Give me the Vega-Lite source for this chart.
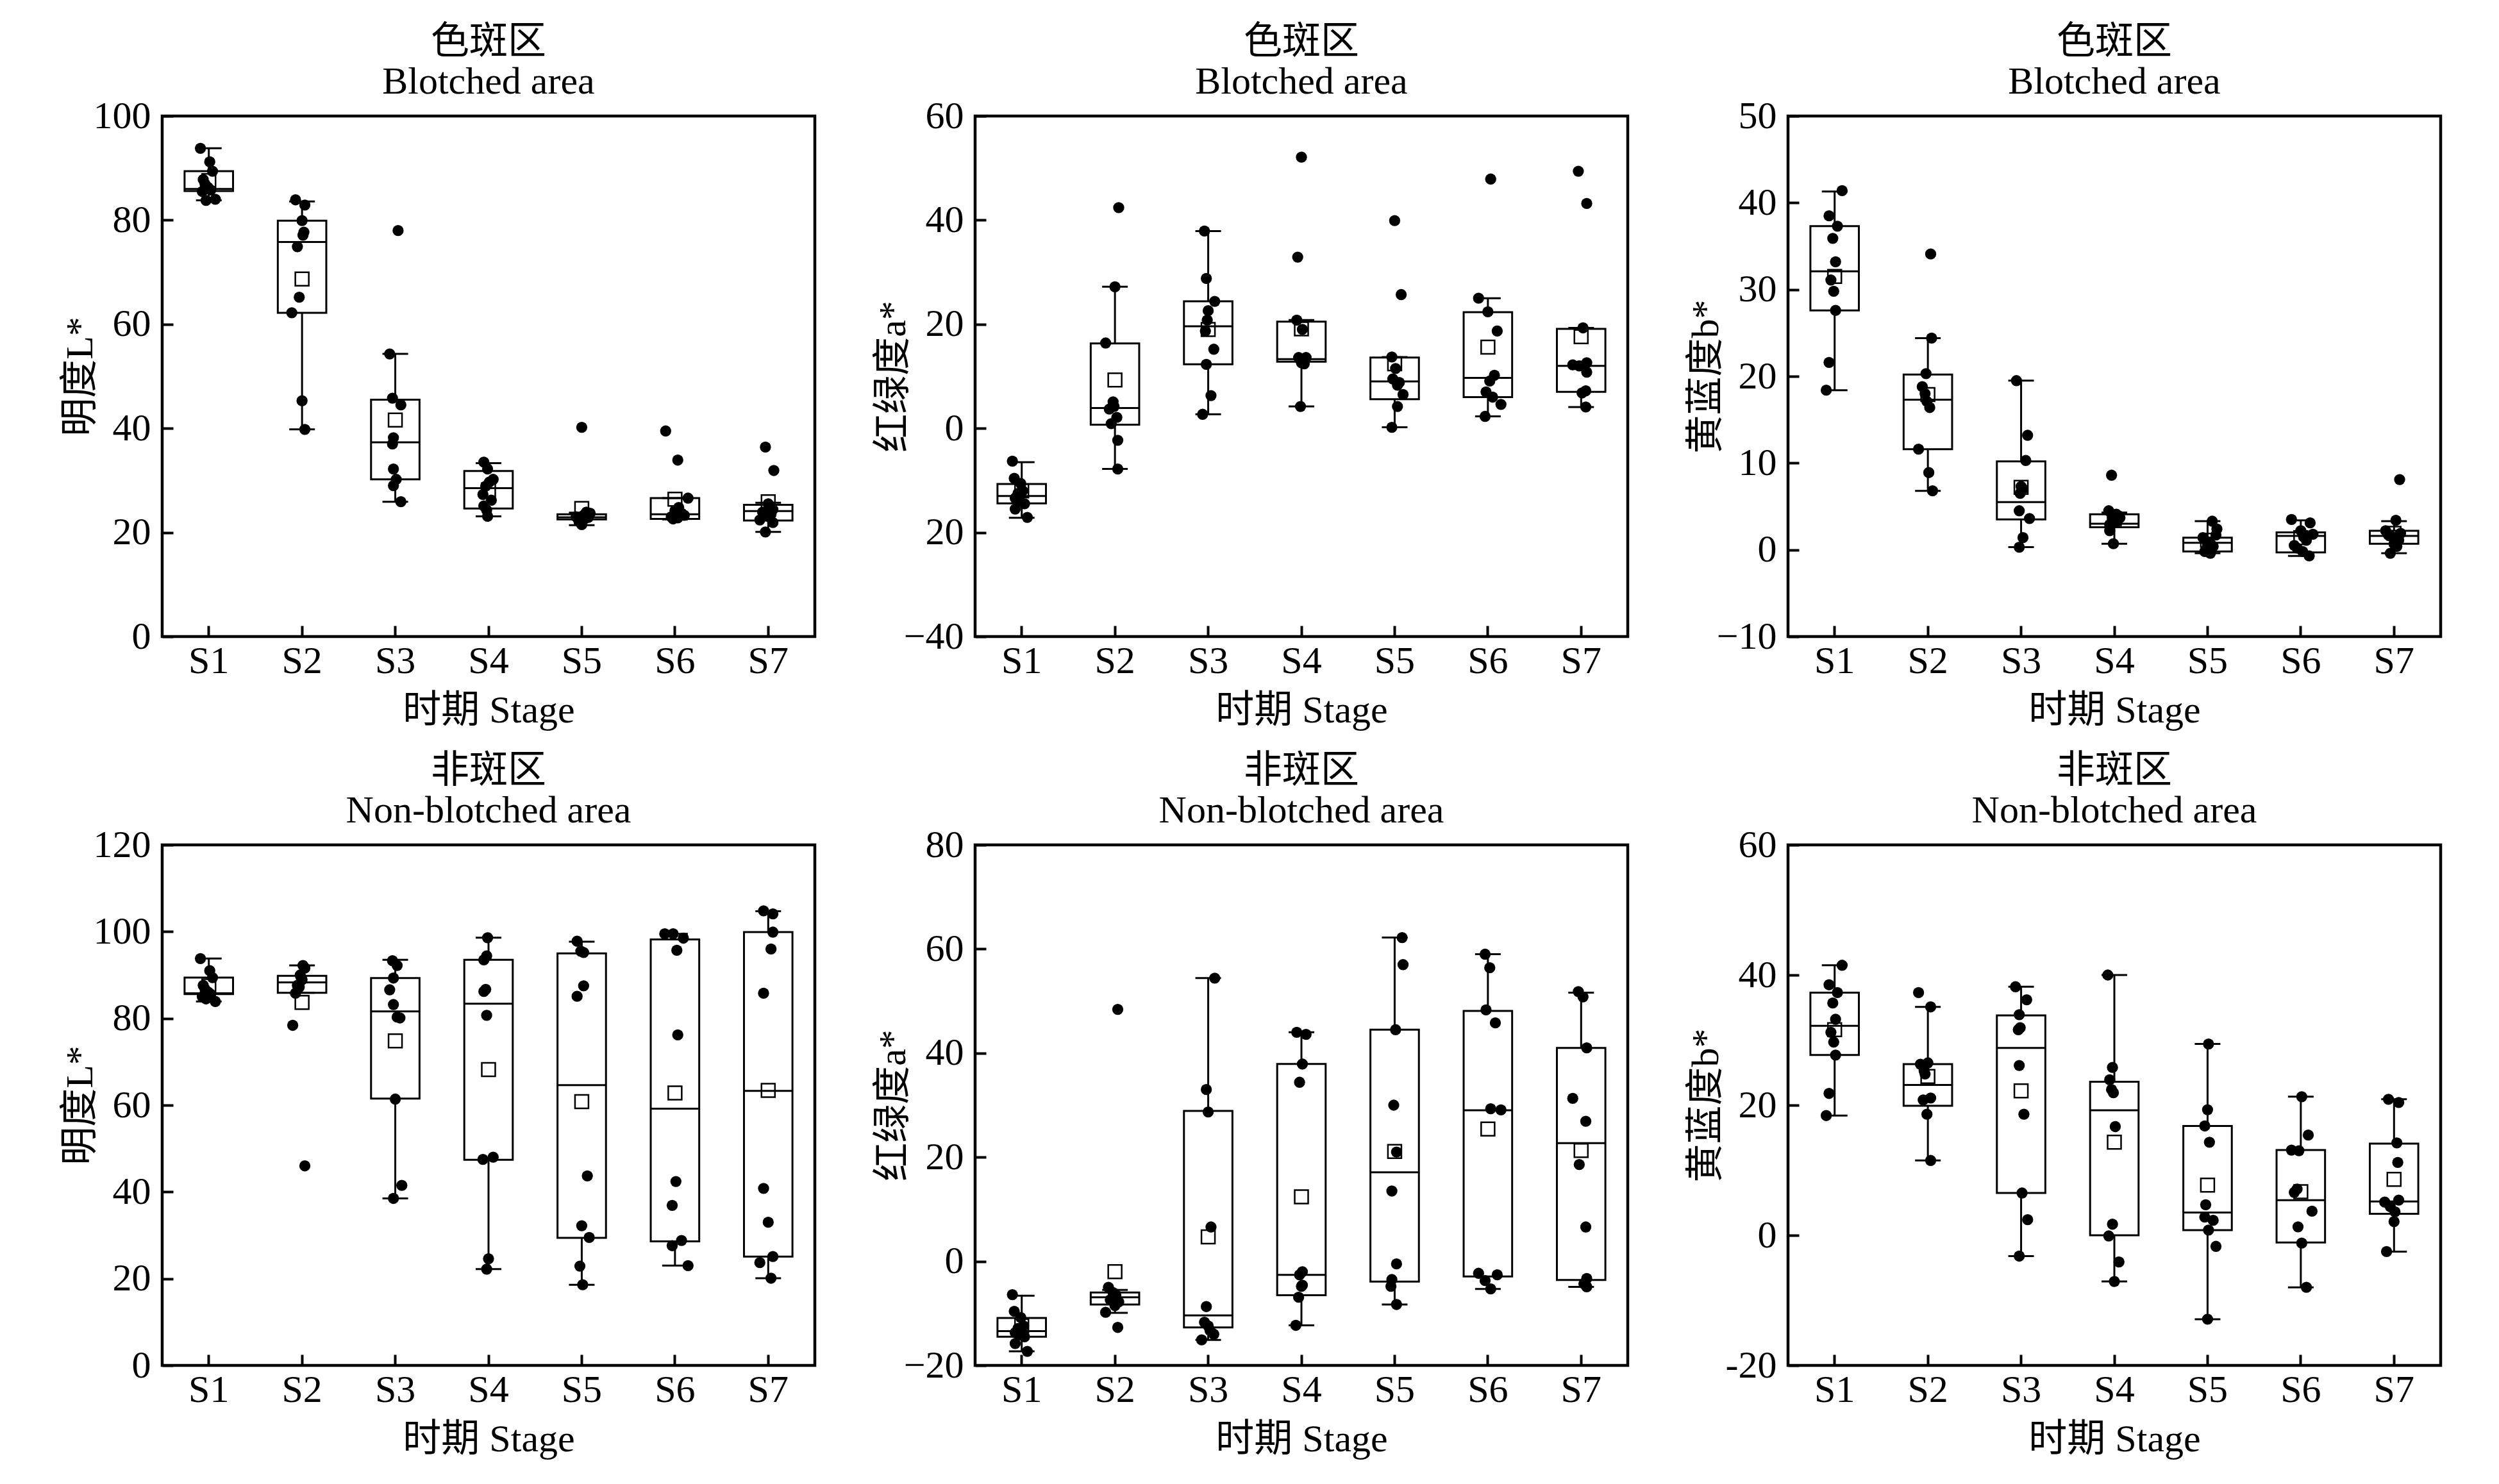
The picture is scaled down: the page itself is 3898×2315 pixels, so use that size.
{
  "$schema": "https://vega.github.io/schema/vega-lite/v6.json",
  "description": "Box plots of L*, a*, b* by stage for blotched and non-blotched areas.",
  "padding": {"left": 92, "top": 33, "right": 10, "bottom": 10},
  "datasets": {
    "box": [
      {"p":1,"s":"S1","lo":83.8,"q1":85.6,"md":86.0,"q3":89.4,"hi":93.8,"mn":87.6},
      {"p":1,"s":"S2","lo":39.8,"q1":62.2,"md":75.8,"q3":79.9,"hi":83.6,"mn":68.7},
      {"p":1,"s":"S3","lo":25.9,"q1":30.2,"md":37.3,"q3":45.5,"hi":54.3,"mn":41.6},
      {"p":1,"s":"S4","lo":23.1,"q1":24.6,"md":28.5,"q3":31.8,"hi":33.3,"mn":28.2},
      {"p":1,"s":"S5","lo":21.4,"q1":22.5,"md":22.9,"q3":23.5,"hi":23.8,"mn":24.6},
      {"p":1,"s":"S6","lo":22.5,"q1":22.6,"md":23.5,"q3":26.6,"hi":26.6,"mn":26.4},
      {"p":1,"s":"S7","lo":20.1,"q1":22.3,"md":24.1,"q3":25.3,"hi":25.7,"mn":25.9},
      {"p":2,"s":"S1","lo":-17.2,"q1":-14.4,"md":-13.0,"q3":-10.7,"hi":-6.5,"mn":-12.0},
      {"p":2,"s":"S2","lo":-7.8,"q1":0.7,"md":3.9,"q3":16.3,"hi":27.2,"mn":9.3},
      {"p":2,"s":"S3","lo":2.7,"q1":12.3,"md":19.6,"q3":24.4,"hi":37.9,"mn":19.0},
      {"p":2,"s":"S4","lo":4.2,"q1":12.8,"md":13.3,"q3":20.5,"hi":20.8,"mn":19.1},
      {"p":2,"s":"S5","lo":0.2,"q1":5.6,"md":9.0,"q3":13.6,"hi":13.7,"mn":12.4},
      {"p":2,"s":"S6","lo":2.3,"q1":6.0,"md":9.7,"q3":22.3,"hi":25.0,"mn":15.6},
      {"p":2,"s":"S7","lo":4.1,"q1":7.0,"md":12.0,"q3":19.1,"hi":19.3,"mn":17.6},
      {"p":3,"s":"S1","lo":18.4,"q1":27.6,"md":32.1,"q3":37.3,"hi":41.3,"mn":31.5},
      {"p":3,"s":"S2","lo":6.8,"q1":11.6,"md":17.3,"q3":20.2,"hi":24.4,"mn":17.9},
      {"p":3,"s":"S3","lo":0.3,"q1":3.5,"md":5.5,"q3":10.2,"hi":19.5,"mn":7.2},
      {"p":3,"s":"S4","lo":0.7,"q1":2.6,"md":3.0,"q3":4.1,"hi":4.3,"mn":3.6},
      {"p":3,"s":"S5","lo":-0.4,"q1":-0.2,"md":0.8,"q3":1.4,"hi":3.3,"mn":1.1},
      {"p":3,"s":"S6","lo":-0.7,"q1":-0.3,"md":1.6,"q3":2.0,"hi":3.4,"mn":1.4},
      {"p":3,"s":"S7","lo":-0.4,"q1":0.7,"md":1.6,"q3":2.2,"hi":3.3,"mn":1.9},
      {"p":4,"s":"S1","lo":83.9,"q1":85.6,"md":85.8,"q3":89.4,"hi":93.8,"mn":87.5},
      {"p":4,"s":"S2","lo":85.9,"q1":85.9,"md":88.3,"q3":89.8,"hi":92.2,"mn":83.7},
      {"p":4,"s":"S3","lo":38.5,"q1":61.5,"md":81.6,"q3":89.3,"hi":93.5,"mn":74.8},
      {"p":4,"s":"S4","lo":22.2,"q1":47.4,"md":83.4,"q3":93.5,"hi":98.6,"mn":68.2},
      {"p":4,"s":"S5","lo":18.6,"q1":29.4,"md":64.6,"q3":95.0,"hi":97.7,"mn":60.8},
      {"p":4,"s":"S6","lo":23.0,"q1":28.6,"md":59.2,"q3":98.2,"hi":99.5,"mn":62.8},
      {"p":4,"s":"S7","lo":20.1,"q1":25.1,"md":63.3,"q3":99.9,"hi":104.7,"mn":63.4},
      {"p":5,"s":"S1","lo":-17.3,"q1":-14.5,"md":-13.4,"q3":-10.9,"hi":-6.6,"mn":-12.4},
      {"p":5,"s":"S2","lo":-9.9,"q1":-8.3,"md":-6.9,"q3":-6.0,"hi":-5.5,"mn":-2.0},
      {"p":5,"s":"S3","lo":-15.1,"q1":-12.7,"md":-10.4,"q3":28.9,"hi":54.4,"mn":4.7},
      {"p":5,"s":"S4","lo":-12.3,"q1":-6.5,"md":-2.6,"q3":37.9,"hi":44.0,"mn":12.4},
      {"p":5,"s":"S5","lo":-8.3,"q1":-3.9,"md":17.1,"q3":44.5,"hi":62.2,"mn":21.1},
      {"p":5,"s":"S6","lo":-5.3,"q1":-2.9,"md":29.0,"q3":48.1,"hi":59.0,"mn":25.4},
      {"p":5,"s":"S7","lo":-4.9,"q1":-3.6,"md":22.7,"q3":41.0,"hi":51.6,"mn":21.3},
      {"p":6,"s":"S1","lo":18.4,"q1":27.7,"md":32.2,"q3":37.3,"hi":41.5,"mn":31.6},
      {"p":6,"s":"S2","lo":11.5,"q1":19.9,"md":23.1,"q3":26.3,"hi":35.1,"mn":24.4},
      {"p":6,"s":"S3","lo":-3.2,"q1":6.5,"md":28.8,"q3":33.8,"hi":38.2,"mn":22.2},
      {"p":6,"s":"S4","lo":-7.1,"q1":0.0,"md":19.2,"q3":23.6,"hi":40.0,"mn":14.3},
      {"p":6,"s":"S5","lo":-12.9,"q1":0.8,"md":3.5,"q3":16.8,"hi":29.4,"mn":7.7},
      {"p":6,"s":"S6","lo":-8.0,"q1":-1.1,"md":5.4,"q3":13.1,"hi":21.3,"mn":6.7},
      {"p":6,"s":"S7","lo":-2.5,"q1":3.3,"md":5.2,"q3":14.1,"hi":20.9,"mn":8.6}
    ],
    "pts": [
      {"p":1,"s":"S1","v":93.8,"j":-0.09},{"p":1,"s":"S1","v":91.2,"j":0.01},{"p":1,"s":"S1","v":89.4,"j":0.04},{"p":1,"s":"S1","v":87.8,"j":-0.06},{"p":1,"s":"S1","v":86.9,"j":-0.04},
      {"p":1,"s":"S1","v":86.3,"j":-0.01},{"p":1,"s":"S1","v":85.8,"j":0.02},{"p":1,"s":"S1","v":85.5,"j":-0.07},{"p":1,"s":"S1","v":84.0,"j":0.07},{"p":1,"s":"S1","v":83.8,"j":-0.03},
      {"p":1,"s":"S2","v":83.9,"j":-0.07},{"p":1,"s":"S2","v":82.9,"j":0.03},{"p":1,"s":"S2","v":79.9,"j":0.0},{"p":1,"s":"S2","v":77.7,"j":0.02},{"p":1,"s":"S2","v":77.1,"j":0.01},
      {"p":1,"s":"S2","v":74.9,"j":-0.05},{"p":1,"s":"S2","v":65.2,"j":-0.03},{"p":1,"s":"S2","v":62.2,"j":-0.11},{"p":1,"s":"S2","v":45.3,"j":0.0},{"p":1,"s":"S2","v":39.8,"j":0.03},
      {"p":1,"s":"S3","v":78.0,"j":0.03},{"p":1,"s":"S3","v":54.3,"j":-0.06},{"p":1,"s":"S3","v":45.8,"j":-0.03},{"p":1,"s":"S3","v":44.5,"j":0.06},{"p":1,"s":"S3","v":38.2,"j":-0.02},
      {"p":1,"s":"S3","v":37.0,"j":-0.03},{"p":1,"s":"S3","v":32.2,"j":-0.02},{"p":1,"s":"S3","v":30.2,"j":0.01},{"p":1,"s":"S3","v":29.0,"j":-0.02},{"p":1,"s":"S3","v":25.9,"j":0.06},
      {"p":1,"s":"S4","v":33.5,"j":-0.05},{"p":1,"s":"S4","v":32.2,"j":-0.01},{"p":1,"s":"S4","v":30.2,"j":0.05},{"p":1,"s":"S4","v":29.7,"j":0.01},{"p":1,"s":"S4","v":28.9,"j":-0.03},
      {"p":1,"s":"S4","v":27.3,"j":-0.06},{"p":1,"s":"S4","v":26.2,"j":0.03},{"p":1,"s":"S4","v":25.1,"j":-0.05},{"p":1,"s":"S4","v":24.3,"j":-0.02},{"p":1,"s":"S4","v":23.1,"j":-0.01},
      {"p":1,"s":"S5","v":40.2,"j":0.0},{"p":1,"s":"S5","v":23.9,"j":0.05},{"p":1,"s":"S5","v":23.7,"j":0.09},{"p":1,"s":"S5","v":23.3,"j":0.02},{"p":1,"s":"S5","v":23.0,"j":-0.06},
      {"p":1,"s":"S5","v":22.9,"j":0.07},{"p":1,"s":"S5","v":22.7,"j":-0.01},{"p":1,"s":"S5","v":22.6,"j":0.03},{"p":1,"s":"S5","v":22.1,"j":-0.03},{"p":1,"s":"S5","v":21.5,"j":0.0},
      {"p":1,"s":"S6","v":39.5,"j":-0.1},{"p":1,"s":"S6","v":33.9,"j":0.03},{"p":1,"s":"S6","v":26.6,"j":0.14},{"p":1,"s":"S6","v":24.8,"j":0.04},{"p":1,"s":"S6","v":24.2,"j":0.0},
      {"p":1,"s":"S6","v":23.7,"j":0.07},{"p":1,"s":"S6","v":23.3,"j":0.1},{"p":1,"s":"S6","v":23.0,"j":-0.04},{"p":1,"s":"S6","v":22.8,"j":0.03},{"p":1,"s":"S6","v":22.6,"j":-0.02},
      {"p":1,"s":"S7","v":36.4,"j":-0.03},{"p":1,"s":"S7","v":31.9,"j":0.06},{"p":1,"s":"S7","v":25.5,"j":0.0},{"p":1,"s":"S7","v":24.4,"j":0.05},{"p":1,"s":"S7","v":23.9,"j":-0.06},
      {"p":1,"s":"S7","v":23.5,"j":0.03},{"p":1,"s":"S7","v":23.0,"j":0.01},{"p":1,"s":"S7","v":22.4,"j":-0.09},{"p":1,"s":"S7","v":21.9,"j":0.05},{"p":1,"s":"S7","v":20.1,"j":-0.03},

      {"p":2,"s":"S1","v":-6.3,"j":-0.1},{"p":2,"s":"S1","v":-9.6,"j":-0.08},{"p":2,"s":"S1","v":-10.6,"j":-0.01},{"p":2,"s":"S1","v":-12.5,"j":-0.04},{"p":2,"s":"S1","v":-12.0,"j":0.01},
      {"p":2,"s":"S1","v":-13.4,"j":-0.07},{"p":2,"s":"S1","v":-14.5,"j":0.03},{"p":2,"s":"S1","v":-15.5,"j":-0.07},{"p":2,"s":"S1","v":-17.1,"j":0.06},{"p":2,"s":"S1","v":-13.8,"j":-0.03},
      {"p":2,"s":"S2","v":42.4,"j":0.04},{"p":2,"s":"S2","v":27.2,"j":0.0},{"p":2,"s":"S2","v":16.4,"j":-0.1},{"p":2,"s":"S2","v":5.1,"j":-0.02},{"p":2,"s":"S2","v":3.7,"j":-0.06},
      {"p":2,"s":"S2","v":2.1,"j":0.02},{"p":2,"s":"S2","v":0.9,"j":-0.04},{"p":2,"s":"S2","v":-2.3,"j":0.03},{"p":2,"s":"S2","v":-7.8,"j":0.03},{"p":2,"s":"S2","v":4.2,"j":-0.01},
      {"p":2,"s":"S3","v":37.9,"j":-0.04},{"p":2,"s":"S3","v":28.8,"j":-0.02},{"p":2,"s":"S3","v":24.4,"j":0.07},{"p":2,"s":"S3","v":22.6,"j":0.0},{"p":2,"s":"S3","v":20.8,"j":-0.01},
      {"p":2,"s":"S3","v":18.7,"j":-0.03},{"p":2,"s":"S3","v":15.2,"j":0.06},{"p":2,"s":"S3","v":12.3,"j":-0.02},{"p":2,"s":"S3","v":6.3,"j":0.03},{"p":2,"s":"S3","v":2.7,"j":-0.06},
      {"p":2,"s":"S4","v":52.1,"j":0.0},{"p":2,"s":"S4","v":32.9,"j":-0.04},{"p":2,"s":"S4","v":20.8,"j":-0.05},{"p":2,"s":"S4","v":19.0,"j":0.01},{"p":2,"s":"S4","v":13.6,"j":-0.03},
      {"p":2,"s":"S4","v":13.6,"j":0.05},{"p":2,"s":"S4","v":12.6,"j":0.0},{"p":2,"s":"S4","v":12.4,"j":0.03},{"p":2,"s":"S4","v":4.2,"j":-0.01},{"p":2,"s":"S4","v":13.0,"j":0.02},
      {"p":2,"s":"S5","v":39.9,"j":0.0},{"p":2,"s":"S5","v":25.7,"j":0.07},{"p":2,"s":"S5","v":13.7,"j":-0.03},{"p":2,"s":"S5","v":11.5,"j":0.01},{"p":2,"s":"S5","v":9.5,"j":-0.02},
      {"p":2,"s":"S5","v":8.3,"j":0.03},{"p":2,"s":"S5","v":6.5,"j":0.09},{"p":2,"s":"S5","v":4.2,"j":0.03},{"p":2,"s":"S5","v":0.2,"j":-0.03},{"p":2,"s":"S5","v":8.8,"j":0.05},
      {"p":2,"s":"S6","v":47.9,"j":0.03},{"p":2,"s":"S6","v":25.0,"j":-0.1},{"p":2,"s":"S6","v":22.4,"j":0.0},{"p":2,"s":"S6","v":18.7,"j":0.1},{"p":2,"s":"S6","v":10.2,"j":0.07},
      {"p":2,"s":"S6","v":9.1,"j":0.02},{"p":2,"s":"S6","v":7.0,"j":-0.02},{"p":2,"s":"S6","v":6.0,"j":0.05},{"p":2,"s":"S6","v":4.6,"j":0.14},{"p":2,"s":"S6","v":2.3,"j":-0.03},
      {"p":2,"s":"S7","v":49.4,"j":-0.03},{"p":2,"s":"S7","v":43.2,"j":0.06},{"p":2,"s":"S7","v":19.3,"j":0.02},{"p":2,"s":"S7","v":12.2,"j":-0.09},{"p":2,"s":"S7","v":12.0,"j":-0.02},
      {"p":2,"s":"S7","v":12.6,"j":0.06},{"p":2,"s":"S7","v":10.8,"j":0.06},{"p":2,"s":"S7","v":7.2,"j":0.05},{"p":2,"s":"S7","v":6.8,"j":0.01},{"p":2,"s":"S7","v":4.1,"j":0.05},

      {"p":3,"s":"S1","v":41.4,"j":0.08},{"p":3,"s":"S1","v":38.5,"j":-0.06},{"p":3,"s":"S1","v":37.3,"j":0.03},{"p":3,"s":"S1","v":35.9,"j":-0.02},{"p":3,"s":"S1","v":33.2,"j":0.01},
      {"p":3,"s":"S1","v":31.1,"j":-0.04},{"p":3,"s":"S1","v":29.8,"j":-0.01},{"p":3,"s":"S1","v":27.6,"j":0.01},{"p":3,"s":"S1","v":21.6,"j":-0.06},{"p":3,"s":"S1","v":18.4,"j":-0.09},
      {"p":3,"s":"S2","v":34.1,"j":0.03},{"p":3,"s":"S2","v":24.4,"j":0.04},{"p":3,"s":"S2","v":20.3,"j":-0.02},{"p":3,"s":"S2","v":18.8,"j":-0.06},{"p":3,"s":"S2","v":18.0,"j":-0.03},
      {"p":3,"s":"S2","v":16.4,"j":0.02},{"p":3,"s":"S2","v":11.6,"j":-0.1},{"p":3,"s":"S2","v":8.9,"j":0.01},{"p":3,"s":"S2","v":6.8,"j":0.05},{"p":3,"s":"S2","v":17.1,"j":-0.01},
      {"p":3,"s":"S3","v":19.5,"j":-0.05},{"p":3,"s":"S3","v":13.2,"j":0.07},{"p":3,"s":"S3","v":10.3,"j":0.05},{"p":3,"s":"S3","v":7.3,"j":0.0},{"p":3,"s":"S3","v":6.5,"j":-0.01},
      {"p":3,"s":"S3","v":4.5,"j":-0.02},{"p":3,"s":"S3","v":3.6,"j":0.09},{"p":3,"s":"S3","v":1.4,"j":0.02},{"p":3,"s":"S3","v":0.3,"j":-0.02},{"p":3,"s":"S3","v":7.0,"j":0.02},
      {"p":3,"s":"S4","v":8.6,"j":-0.03},{"p":3,"s":"S4","v":4.5,"j":-0.06},{"p":3,"s":"S4","v":4.1,"j":0.02},{"p":3,"s":"S4","v":3.5,"j":-0.01},{"p":3,"s":"S4","v":3.7,"j":0.06},
      {"p":3,"s":"S4","v":2.9,"j":-0.05},{"p":3,"s":"S4","v":2.2,"j":-0.05},{"p":3,"s":"S4","v":0.7,"j":-0.01},{"p":3,"s":"S4","v":3.3,"j":0.03},{"p":3,"s":"S4","v":3.8,"j":-0.02},
      {"p":3,"s":"S5","v":3.3,"j":0.05},{"p":3,"s":"S5","v":2.4,"j":0.1},{"p":3,"s":"S5","v":1.4,"j":-0.05},{"p":3,"s":"S5","v":0.9,"j":0.01},{"p":3,"s":"S5","v":0.4,"j":0.06},
      {"p":3,"s":"S5","v":0.0,"j":-0.01},{"p":3,"s":"S5","v":-0.4,"j":0.03},{"p":3,"s":"S5","v":-0.2,"j":-0.03},{"p":3,"s":"S5","v":1.7,"j":0.09},{"p":3,"s":"S5","v":0.5,"j":0.0},
      {"p":3,"s":"S6","v":3.5,"j":-0.1},{"p":3,"s":"S6","v":3.1,"j":0.1},{"p":3,"s":"S6","v":2.2,"j":0.0},{"p":3,"s":"S6","v":1.8,"j":0.13},{"p":3,"s":"S6","v":1.5,"j":0.03},
      {"p":3,"s":"S6","v":0.2,"j":-0.04},{"p":3,"s":"S6","v":-0.2,"j":0.02},{"p":3,"s":"S6","v":-0.7,"j":0.09},{"p":3,"s":"S6","v":0.5,"j":-0.07},{"p":3,"s":"S6","v":1.1,"j":0.06},
      {"p":3,"s":"S7","v":8.1,"j":0.06},{"p":3,"s":"S7","v":3.4,"j":0.02},{"p":3,"s":"S7","v":2.2,"j":-0.09},{"p":3,"s":"S7","v":1.9,"j":0.07},{"p":3,"s":"S7","v":1.5,"j":-0.02},
      {"p":3,"s":"S7","v":1.1,"j":0.05},{"p":3,"s":"S7","v":0.7,"j":0.0},{"p":3,"s":"S7","v":-0.4,"j":-0.04},{"p":3,"s":"S7","v":0.4,"j":0.03},{"p":3,"s":"S7","v":1.7,"j":-0.06},

      {"p":4,"s":"S1","v":93.8,"j":-0.09},{"p":4,"s":"S1","v":91.0,"j":0.01},{"p":4,"s":"S1","v":89.4,"j":0.04},{"p":4,"s":"S1","v":87.6,"j":-0.06},{"p":4,"s":"S1","v":86.7,"j":-0.04},
      {"p":4,"s":"S1","v":86.1,"j":-0.01},{"p":4,"s":"S1","v":85.6,"j":0.02},{"p":4,"s":"S1","v":85.0,"j":-0.07},{"p":4,"s":"S1","v":83.9,"j":0.07},{"p":4,"s":"S1","v":84.5,"j":-0.03},
      {"p":4,"s":"S2","v":92.2,"j":0.01},{"p":4,"s":"S2","v":91.6,"j":0.03},{"p":4,"s":"S2","v":90.0,"j":-0.02},{"p":4,"s":"S2","v":88.9,"j":0.0},{"p":4,"s":"S2","v":87.6,"j":-0.05},
      {"p":4,"s":"S2","v":85.8,"j":-0.07},{"p":4,"s":"S2","v":87.2,"j":-0.03},{"p":4,"s":"S2","v":78.4,"j":-0.1},{"p":4,"s":"S2","v":46.0,"j":0.03},{"p":4,"s":"S2","v":89.4,"j":-0.01},
      {"p":4,"s":"S3","v":93.3,"j":-0.03},{"p":4,"s":"S3","v":89.3,"j":-0.02},{"p":4,"s":"S3","v":86.6,"j":-0.06},{"p":4,"s":"S3","v":83.2,"j":-0.02},{"p":4,"s":"S3","v":80.1,"j":0.05},
      {"p":4,"s":"S3","v":80.3,"j":0.02},{"p":4,"s":"S3","v":61.4,"j":0.0},{"p":4,"s":"S3","v":41.5,"j":0.07},{"p":4,"s":"S3","v":38.5,"j":-0.02},{"p":4,"s":"S3","v":92.2,"j":0.02},
      {"p":4,"s":"S4","v":98.6,"j":-0.01},{"p":4,"s":"S4","v":94.4,"j":-0.02},{"p":4,"s":"S4","v":93.5,"j":-0.05},{"p":4,"s":"S4","v":86.2,"j":-0.05},{"p":4,"s":"S4","v":86.7,"j":-0.03},
      {"p":4,"s":"S4","v":80.7,"j":-0.02},{"p":4,"s":"S4","v":47.5,"j":-0.06},{"p":4,"s":"S4","v":48.0,"j":0.05},{"p":4,"s":"S4","v":24.6,"j":0.0},{"p":4,"s":"S4","v":22.2,"j":-0.02},
      {"p":4,"s":"S5","v":97.8,"j":-0.05},{"p":4,"s":"S5","v":95.2,"j":0.02},{"p":4,"s":"S5","v":87.5,"j":0.02},{"p":4,"s":"S5","v":85.1,"j":-0.05},{"p":4,"s":"S5","v":43.7,"j":0.06},
      {"p":4,"s":"S5","v":32.2,"j":0.0},{"p":4,"s":"S5","v":29.5,"j":0.08},{"p":4,"s":"S5","v":22.9,"j":-0.02},{"p":4,"s":"S5","v":18.6,"j":0.01},{"p":4,"s":"S5","v":95.5,"j":-0.01},
      {"p":4,"s":"S6","v":99.5,"j":-0.11},{"p":4,"s":"S6","v":99.5,"j":-0.02},{"p":4,"s":"S6","v":98.5,"j":0.09},{"p":4,"s":"S6","v":95.7,"j":0.02},{"p":4,"s":"S6","v":76.2,"j":0.03},
      {"p":4,"s":"S6","v":42.4,"j":0.01},{"p":4,"s":"S6","v":36.9,"j":-0.03},{"p":4,"s":"S6","v":28.8,"j":0.07},{"p":4,"s":"S6","v":27.6,"j":-0.03},{"p":4,"s":"S6","v":23.0,"j":0.14},
      {"p":4,"s":"S7","v":104.8,"j":-0.05},{"p":4,"s":"S7","v":104.1,"j":0.05},{"p":4,"s":"S7","v":99.9,"j":0.05},{"p":4,"s":"S7","v":96.0,"j":0.03},{"p":4,"s":"S7","v":85.8,"j":-0.05},
      {"p":4,"s":"S7","v":40.8,"j":-0.05},{"p":4,"s":"S7","v":33.0,"j":0.0},{"p":4,"s":"S7","v":25.1,"j":0.05},{"p":4,"s":"S7","v":23.7,"j":-0.09},{"p":4,"s":"S7","v":20.1,"j":0.03},

      {"p":5,"s":"S1","v":-6.4,"j":-0.1},{"p":5,"s":"S1","v":-9.6,"j":-0.08},{"p":5,"s":"S1","v":-10.8,"j":-0.01},{"p":5,"s":"S1","v":-12.9,"j":-0.04},{"p":5,"s":"S1","v":-12.4,"j":0.02},
      {"p":5,"s":"S1","v":-13.7,"j":-0.07},{"p":5,"s":"S1","v":-14.5,"j":0.03},{"p":5,"s":"S1","v":-15.8,"j":-0.07},{"p":5,"s":"S1","v":-17.3,"j":0.06},{"p":5,"s":"S1","v":-14.2,"j":-0.03},
      {"p":5,"s":"S2","v":48.4,"j":0.03},{"p":5,"s":"S2","v":-5.0,"j":-0.07},{"p":5,"s":"S2","v":-6.0,"j":-0.02},{"p":5,"s":"S2","v":-6.5,"j":0.01},{"p":5,"s":"S2","v":-7.4,"j":-0.05},
      {"p":5,"s":"S2","v":-7.8,"j":0.04},{"p":5,"s":"S2","v":-8.5,"j":0.0},{"p":5,"s":"S2","v":-9.8,"j":-0.1},{"p":5,"s":"S2","v":-12.7,"j":0.03},{"p":5,"s":"S2","v":-6.9,"j":-0.01},
      {"p":5,"s":"S3","v":54.4,"j":0.07},{"p":5,"s":"S3","v":33.0,"j":-0.02},{"p":5,"s":"S3","v":28.7,"j":0.0},{"p":5,"s":"S3","v":6.6,"j":0.03},{"p":5,"s":"S3","v":-8.7,"j":-0.02},
      {"p":5,"s":"S3","v":-11.7,"j":-0.04},{"p":5,"s":"S3","v":-12.4,"j":0.0},{"p":5,"s":"S3","v":-14.0,"j":0.06},{"p":5,"s":"S3","v":-15.1,"j":-0.07},{"p":5,"s":"S3","v":-13.3,"j":0.02},
      {"p":5,"s":"S4","v":44.0,"j":-0.05},{"p":5,"s":"S4","v":43.6,"j":0.05},{"p":5,"s":"S4","v":37.9,"j":0.01},{"p":5,"s":"S4","v":34.4,"j":-0.02},{"p":5,"s":"S4","v":-2.0,"j":0.01},
      {"p":5,"s":"S4","v":-2.6,"j":-0.02},{"p":5,"s":"S4","v":-4.8,"j":0.0},{"p":5,"s":"S4","v":-6.9,"j":-0.03},{"p":5,"s":"S4","v":-12.3,"j":-0.06},{"p":5,"s":"S4","v":-4.6,"j":0.01},
      {"p":5,"s":"S5","v":62.2,"j":0.08},{"p":5,"s":"S5","v":57.0,"j":0.09},{"p":5,"s":"S5","v":44.5,"j":0.01},{"p":5,"s":"S5","v":30.0,"j":-0.01},{"p":5,"s":"S5","v":21.0,"j":0.02},
      {"p":5,"s":"S5","v":13.5,"j":-0.03},{"p":5,"s":"S5","v":-0.5,"j":0.02},{"p":5,"s":"S5","v":-3.5,"j":-0.03},{"p":5,"s":"S5","v":-4.8,"j":-0.04},{"p":5,"s":"S5","v":-8.3,"j":0.02},
      {"p":5,"s":"S6","v":59.0,"j":-0.03},{"p":5,"s":"S6","v":56.4,"j":0.02},{"p":5,"s":"S6","v":48.3,"j":-0.02},{"p":5,"s":"S6","v":45.8,"j":0.08},{"p":5,"s":"S6","v":29.3,"j":0.03},
      {"p":5,"s":"S6","v":29.1,"j":0.14},{"p":5,"s":"S6","v":-2.3,"j":-0.1},{"p":5,"s":"S6","v":-2.6,"j":0.1},{"p":5,"s":"S6","v":-3.7,"j":-0.03},{"p":5,"s":"S6","v":-5.3,"j":0.03},
      {"p":5,"s":"S7","v":51.8,"j":-0.03},{"p":5,"s":"S7","v":50.8,"j":0.02},{"p":5,"s":"S7","v":41.0,"j":0.06},{"p":5,"s":"S7","v":31.3,"j":-0.09},{"p":5,"s":"S7","v":26.9,"j":0.05},
      {"p":5,"s":"S7","v":18.6,"j":-0.02},{"p":5,"s":"S7","v":6.6,"j":0.05},{"p":5,"s":"S7","v":-3.3,"j":0.06},{"p":5,"s":"S7","v":-4.3,"j":0.03},{"p":5,"s":"S7","v":-4.9,"j":0.06},

      {"p":6,"s":"S1","v":41.5,"j":0.08},{"p":6,"s":"S1","v":38.5,"j":-0.06},{"p":6,"s":"S1","v":37.3,"j":0.03},{"p":6,"s":"S1","v":35.7,"j":-0.02},{"p":6,"s":"S1","v":33.2,"j":0.01},
      {"p":6,"s":"S1","v":31.2,"j":-0.04},{"p":6,"s":"S1","v":29.7,"j":-0.01},{"p":6,"s":"S1","v":27.7,"j":0.01},{"p":6,"s":"S1","v":21.8,"j":-0.06},{"p":6,"s":"S1","v":18.4,"j":-0.09},
      {"p":6,"s":"S2","v":37.3,"j":-0.1},{"p":6,"s":"S2","v":35.1,"j":0.03},{"p":6,"s":"S2","v":26.3,"j":-0.08},{"p":6,"s":"S2","v":26.5,"j":0.0},{"p":6,"s":"S2","v":24.8,"j":-0.03},
      {"p":6,"s":"S2","v":21.1,"j":0.03},{"p":6,"s":"S2","v":20.8,"j":-0.05},{"p":6,"s":"S2","v":18.6,"j":-0.01},{"p":6,"s":"S2","v":11.5,"j":0.03},{"p":6,"s":"S2","v":25.3,"j":-0.04},
      {"p":6,"s":"S3","v":38.2,"j":-0.06},{"p":6,"s":"S3","v":36.2,"j":0.06},{"p":6,"s":"S3","v":33.9,"j":-0.02},{"p":6,"s":"S3","v":31.6,"j":-0.03},{"p":6,"s":"S3","v":26.1,"j":-0.02},
      {"p":6,"s":"S3","v":18.6,"j":0.03},{"p":6,"s":"S3","v":6.5,"j":0.01},{"p":6,"s":"S3","v":2.4,"j":0.07},{"p":6,"s":"S3","v":-3.2,"j":-0.02},{"p":6,"s":"S3","v":31.9,"j":-0.01},
      {"p":6,"s":"S4","v":40.0,"j":-0.07},{"p":6,"s":"S4","v":25.8,"j":-0.02},{"p":6,"s":"S4","v":23.9,"j":-0.05},{"p":6,"s":"S4","v":21.9,"j":-0.01},{"p":6,"s":"S4","v":16.7,"j":0.01},
      {"p":6,"s":"S4","v":1.7,"j":-0.02},{"p":6,"s":"S4","v":-0.1,"j":-0.06},{"p":6,"s":"S4","v":-4.1,"j":0.05},{"p":6,"s":"S4","v":-7.1,"j":0.0},{"p":6,"s":"S4","v":22.4,"j":-0.03},
      {"p":6,"s":"S5","v":29.4,"j":0.01},{"p":6,"s":"S5","v":19.3,"j":0.0},{"p":6,"s":"S5","v":16.8,"j":-0.03},{"p":6,"s":"S5","v":14.3,"j":0.02},{"p":6,"s":"S5","v":4.7,"j":-0.02},
      {"p":6,"s":"S5","v":2.8,"j":-0.03},{"p":6,"s":"S5","v":2.3,"j":0.06},{"p":6,"s":"S5","v":0.8,"j":0.01},{"p":6,"s":"S5","v":-1.7,"j":0.09},{"p":6,"s":"S5","v":-12.9,"j":0.0},
      {"p":6,"s":"S6","v":21.3,"j":0.01},{"p":6,"s":"S6","v":15.4,"j":0.08},{"p":6,"s":"S6","v":13.1,"j":-0.1},{"p":6,"s":"S6","v":13.0,"j":-0.02},{"p":6,"s":"S6","v":7.1,"j":-0.04},
      {"p":6,"s":"S6","v":3.7,"j":0.12},{"p":6,"s":"S6","v":1.3,"j":-0.03},{"p":6,"s":"S6","v":-1.2,"j":0.01},{"p":6,"s":"S6","v":-8.0,"j":0.06},{"p":6,"s":"S6","v":6.6,"j":-0.07},
      {"p":6,"s":"S7","v":20.9,"j":-0.06},{"p":6,"s":"S7","v":20.4,"j":0.05},{"p":6,"s":"S7","v":14.2,"j":0.03},{"p":6,"s":"S7","v":11.2,"j":0.04},{"p":6,"s":"S7","v":5.1,"j":-0.1},
      {"p":6,"s":"S7","v":5.4,"j":0.05},{"p":6,"s":"S7","v":3.6,"j":0.01},{"p":6,"s":"S7","v":2.1,"j":0.0},{"p":6,"s":"S7","v":-2.5,"j":-0.08},{"p":6,"s":"S7","v":4.4,"j":-0.04}
    ]
  },
  "columns": 3,
  "spacing": {"row": 325, "column": 250},
  "bounds": "flush",
  "concat": [
    {
      "width": 1018, "height": 812,
      "title": {"text": ["色斑区", "Blotched area"]},
      "encoding": {"x": {"field": "s", "type": "ordinal", "title": "时期 Stage", "scale": {"paddingInner": 0, "paddingOuter": 0}}},
      "resolve": {"scale": {"xOffset": "independent"}},
      "layer": [
        {
          "data": {"name": "box"},
          "transform": [{"filter": "datum.p == 1"}],
          "layer": [
            {"mark": "rule", "encoding": {"y": {"field": "lo", "type": "quantitative", "title": "明度L*", "scale": {"domain": [0, 100], "nice": false}, "axis": {"values": [0, 20, 40, 60, 80, 100]}}, "y2": {"field": "hi"}}},
            {"mark": {"type": "bar", "fill": "white", "stroke": "black", "strokeWidth": 3, "width": {"band": 0.52}}, "encoding": {"y": {"field": "q1", "type": "quantitative"}, "y2": {"field": "q3"}}},
            {"mark": {"type": "tick", "size": 40}, "encoding": {"y": {"field": "lo", "type": "quantitative"}}},
            {"mark": {"type": "tick", "size": 40}, "encoding": {"y": {"field": "hi", "type": "quantitative"}}},
            {"mark": {"type": "tick", "size": 75}, "encoding": {"y": {"field": "md", "type": "quantitative"}}},
            {"mark": "square", "encoding": {"y": {"field": "mn", "type": "quantitative"}}}
          ]
        },
        {
          "data": {"name": "pts"},
          "transform": [{"filter": "datum.p == 1"}],
          "mark": "circle",
          "encoding": {"y": {"field": "v", "type": "quantitative"}, "xOffset": {"field": "j", "type": "quantitative", "scale": {"domain": [-0.5, 0.5]}}}
        }
      ]
    },
    {
      "width": 1018, "height": 812,
      "title": {"text": ["色斑区", "Blotched area"]},
      "encoding": {"x": {"field": "s", "type": "ordinal", "title": "时期 Stage", "scale": {"paddingInner": 0, "paddingOuter": 0}}},
      "resolve": {"scale": {"xOffset": "independent"}},
      "layer": [
        {
          "data": {"name": "box"},
          "transform": [{"filter": "datum.p == 2"}],
          "layer": [
            {"mark": "rule", "encoding": {"y": {"field": "lo", "type": "quantitative", "title": "红绿度a*", "scale": {"domain": [-40, 60], "nice": false}, "axis": {"values": [-40, -20, 0, 20, 40, 60], "labelExpr": "datum.value == -20 ? '20' : datum.label"}}, "y2": {"field": "hi"}}},
            {"mark": {"type": "bar", "fill": "white", "stroke": "black", "strokeWidth": 3, "width": {"band": 0.52}}, "encoding": {"y": {"field": "q1", "type": "quantitative"}, "y2": {"field": "q3"}}},
            {"mark": {"type": "tick", "size": 40}, "encoding": {"y": {"field": "lo", "type": "quantitative"}}},
            {"mark": {"type": "tick", "size": 40}, "encoding": {"y": {"field": "hi", "type": "quantitative"}}},
            {"mark": {"type": "tick", "size": 75}, "encoding": {"y": {"field": "md", "type": "quantitative"}}},
            {"mark": "square", "encoding": {"y": {"field": "mn", "type": "quantitative"}}}
          ]
        },
        {
          "data": {"name": "pts"},
          "transform": [{"filter": "datum.p == 2"}],
          "mark": "circle",
          "encoding": {"y": {"field": "v", "type": "quantitative"}, "xOffset": {"field": "j", "type": "quantitative", "scale": {"domain": [-0.5, 0.5]}}}
        }
      ]
    },
    {
      "width": 1018, "height": 812,
      "title": {"text": ["色斑区", "Blotched area"]},
      "encoding": {"x": {"field": "s", "type": "ordinal", "title": "时期 Stage", "scale": {"paddingInner": 0, "paddingOuter": 0}}},
      "resolve": {"scale": {"xOffset": "independent"}},
      "layer": [
        {
          "data": {"name": "box"},
          "transform": [{"filter": "datum.p == 3"}],
          "layer": [
            {"mark": "rule", "encoding": {"y": {"field": "lo", "type": "quantitative", "title": "黄蓝度b*", "scale": {"domain": [-10, 50], "nice": false}, "axis": {"values": [-10, 0, 10, 20, 30, 40, 50]}}, "y2": {"field": "hi"}}},
            {"mark": {"type": "bar", "fill": "white", "stroke": "black", "strokeWidth": 3, "width": {"band": 0.52}}, "encoding": {"y": {"field": "q1", "type": "quantitative"}, "y2": {"field": "q3"}}},
            {"mark": {"type": "tick", "size": 40}, "encoding": {"y": {"field": "lo", "type": "quantitative"}}},
            {"mark": {"type": "tick", "size": 40}, "encoding": {"y": {"field": "hi", "type": "quantitative"}}},
            {"mark": {"type": "tick", "size": 75}, "encoding": {"y": {"field": "md", "type": "quantitative"}}},
            {"mark": "square", "encoding": {"y": {"field": "mn", "type": "quantitative"}}}
          ]
        },
        {
          "data": {"name": "pts"},
          "transform": [{"filter": "datum.p == 3"}],
          "mark": "circle",
          "encoding": {"y": {"field": "v", "type": "quantitative"}, "xOffset": {"field": "j", "type": "quantitative", "scale": {"domain": [-0.5, 0.5]}}}
        }
      ]
    },
    {
      "width": 1018, "height": 812,
      "title": {"text": ["非斑区", "Non-blotched area"]},
      "encoding": {"x": {"field": "s", "type": "ordinal", "title": "时期 Stage", "scale": {"paddingInner": 0, "paddingOuter": 0}}},
      "resolve": {"scale": {"xOffset": "independent"}},
      "layer": [
        {
          "data": {"name": "box"},
          "transform": [{"filter": "datum.p == 4"}],
          "layer": [
            {"mark": "rule", "encoding": {"y": {"field": "lo", "type": "quantitative", "title": "明度L*", "scale": {"domain": [0, 120], "nice": false}, "axis": {"values": [0, 20, 40, 60, 80, 100, 120]}}, "y2": {"field": "hi"}}},
            {"mark": {"type": "bar", "fill": "white", "stroke": "black", "strokeWidth": 3, "width": {"band": 0.52}}, "encoding": {"y": {"field": "q1", "type": "quantitative"}, "y2": {"field": "q3"}}},
            {"mark": {"type": "tick", "size": 40}, "encoding": {"y": {"field": "lo", "type": "quantitative"}}},
            {"mark": {"type": "tick", "size": 40}, "encoding": {"y": {"field": "hi", "type": "quantitative"}}},
            {"mark": {"type": "tick", "size": 75}, "encoding": {"y": {"field": "md", "type": "quantitative"}}},
            {"mark": "square", "encoding": {"y": {"field": "mn", "type": "quantitative"}}}
          ]
        },
        {
          "data": {"name": "pts"},
          "transform": [{"filter": "datum.p == 4"}],
          "mark": "circle",
          "encoding": {"y": {"field": "v", "type": "quantitative"}, "xOffset": {"field": "j", "type": "quantitative", "scale": {"domain": [-0.5, 0.5]}}}
        }
      ]
    },
    {
      "width": 1018, "height": 812,
      "title": {"text": ["非斑区", "Non-blotched area"]},
      "encoding": {"x": {"field": "s", "type": "ordinal", "title": "时期 Stage", "scale": {"paddingInner": 0, "paddingOuter": 0}}},
      "resolve": {"scale": {"xOffset": "independent"}},
      "layer": [
        {
          "data": {"name": "box"},
          "transform": [{"filter": "datum.p == 5"}],
          "layer": [
            {"mark": "rule", "encoding": {"y": {"field": "lo", "type": "quantitative", "title": "红绿度a*", "scale": {"domain": [-20, 80], "nice": false}, "axis": {"values": [-20, 0, 20, 40, 60, 80]}}, "y2": {"field": "hi"}}},
            {"mark": {"type": "bar", "fill": "white", "stroke": "black", "strokeWidth": 3, "width": {"band": 0.52}}, "encoding": {"y": {"field": "q1", "type": "quantitative"}, "y2": {"field": "q3"}}},
            {"mark": {"type": "tick", "size": 40}, "encoding": {"y": {"field": "lo", "type": "quantitative"}}},
            {"mark": {"type": "tick", "size": 40}, "encoding": {"y": {"field": "hi", "type": "quantitative"}}},
            {"mark": {"type": "tick", "size": 75}, "encoding": {"y": {"field": "md", "type": "quantitative"}}},
            {"mark": "square", "encoding": {"y": {"field": "mn", "type": "quantitative"}}}
          ]
        },
        {
          "data": {"name": "pts"},
          "transform": [{"filter": "datum.p == 5"}],
          "mark": "circle",
          "encoding": {"y": {"field": "v", "type": "quantitative"}, "xOffset": {"field": "j", "type": "quantitative", "scale": {"domain": [-0.5, 0.5]}}}
        }
      ]
    },
    {
      "width": 1018, "height": 812,
      "title": {"text": ["非斑区", "Non-blotched area"]},
      "encoding": {"x": {"field": "s", "type": "ordinal", "title": "时期 Stage", "scale": {"paddingInner": 0, "paddingOuter": 0}}},
      "resolve": {"scale": {"xOffset": "independent"}},
      "layer": [
        {
          "data": {"name": "box"},
          "transform": [{"filter": "datum.p == 6"}],
          "layer": [
            {"mark": "rule", "encoding": {"y": {"field": "lo", "type": "quantitative", "title": "黄蓝度b*", "scale": {"domain": [-20, 60], "nice": false}, "axis": {"values": [-20, 0, 20, 40, 60], "labelExpr": "datum.value == -20 ? '-20' : datum.label"}}, "y2": {"field": "hi"}}},
            {"mark": {"type": "bar", "fill": "white", "stroke": "black", "strokeWidth": 3, "width": {"band": 0.52}}, "encoding": {"y": {"field": "q1", "type": "quantitative"}, "y2": {"field": "q3"}}},
            {"mark": {"type": "tick", "size": 40}, "encoding": {"y": {"field": "lo", "type": "quantitative"}}},
            {"mark": {"type": "tick", "size": 40}, "encoding": {"y": {"field": "hi", "type": "quantitative"}}},
            {"mark": {"type": "tick", "size": 75}, "encoding": {"y": {"field": "md", "type": "quantitative"}}},
            {"mark": "square", "encoding": {"y": {"field": "mn", "type": "quantitative"}}}
          ]
        },
        {
          "data": {"name": "pts"},
          "transform": [{"filter": "datum.p == 6"}],
          "mark": "circle",
          "encoding": {"y": {"field": "v", "type": "quantitative"}, "xOffset": {"field": "j", "type": "quantitative", "scale": {"domain": [-0.5, 0.5]}}}
        }
      ]
    }
  ],
  "config": {
    "font": "Liberation Serif, Noto Sans CJK SC",
    "background": "white",
    "view": {"stroke": "black", "strokeWidth": 4.5},
    "rule": {"color": "black", "strokeWidth": 3},
    "tick": {"color": "black", "thickness": 3, "opacity": 1},
    "square": {"filled": false, "stroke": "black", "strokeWidth": 2.5, "size": 441, "opacity": 1},
    "circle": {"color": "black", "size": 300, "opacity": 1},
    "axis": {
      "domain": false, "grid": false,
      "labelFont": "Liberation Serif, Noto Sans CJK SC", "titleFont": "Liberation Serif, Noto Sans CJK SC",
      "labelFontSize": 60, "titleFontSize": 60, "titleFontWeight": "normal",
      "labelColor": "black", "titleColor": "black",
      "tickColor": "black", "tickWidth": 4, "tickSize": -17,
      "labelOverlap": false, "labelFlush": false
    },
    "axisX": {"labelAngle": 0, "labelPadding": 26, "titleY": 115, "titleBaseline": "middle"},
    "axisY": {"labelPadding": 35, "titleX": -128, "titleBaseline": "middle"},
    "title": {"font": "Liberation Serif, Noto Sans CJK SC", "fontSize": 60, "fontWeight": "normal", "color": "black", "lineHeight": 62, "offset": -8, "baseline": "bottom"}
  }
}
